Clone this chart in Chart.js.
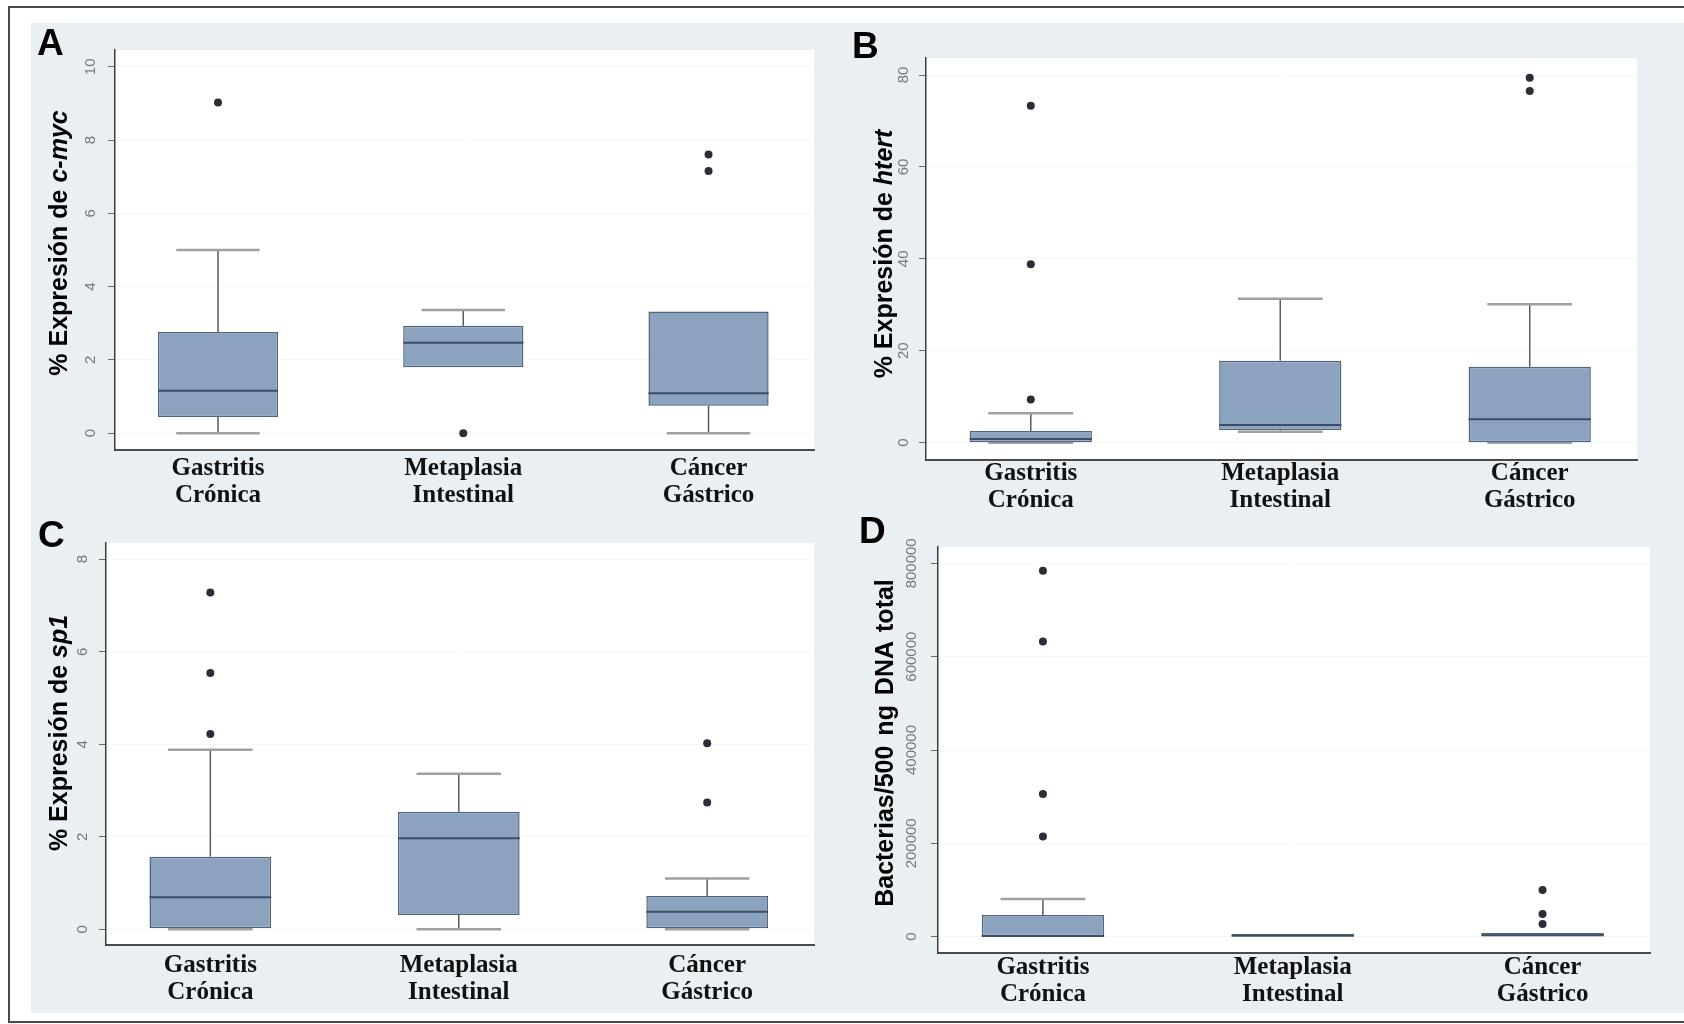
<!DOCTYPE html>
<html>
<head>
<meta charset="utf-8">
<script src="https://cdn.jsdelivr.net/npm/chart.js@4.4.1/dist/chart.umd.min.js"></script>
<style>
  html, body { margin: 0; padding: 0; background: #fff; }
  body { width: 1684px; height: 1024px; position: relative; overflow: hidden;
         font-family: "Liberation Sans", Arial, sans-serif; }
  #frame { position: absolute; left: 8px; top: 6px; width: 1700px; height: 1017px;
           border: 2px solid #4b4b4b; box-sizing: border-box; }
  #bg { position: absolute; left: 31px; top: 23px; width: 1653px; height: 990px; background: #e9eff3; }
  .panel { position: absolute; }
  .panel canvas { display: block; }
  .letter { position: absolute; font: bold 37px "Liberation Sans", Arial, sans-serif; line-height: 1; color: #000; }
  .ytitle { position: absolute; font: bold 25px "Liberation Sans", Arial, sans-serif; line-height: 1;
            white-space: nowrap; color: #000; transform: translate(-50%, -50%) rotate(-90deg); }
</style>
</head>
<body>
<div id="frame"></div>
<div id="bg"></div>

<div class="panel" style="left:31px;top:23px;"><canvas id="chartA" width="829" height="490"></canvas></div>
<div class="panel" style="left:860px;top:23px;"><canvas id="chartB" width="824" height="490"></canvas></div>
<div class="panel" style="left:31px;top:513px;"><canvas id="chartC" width="829" height="500"></canvas></div>
<div class="panel" style="left:860px;top:513px;"><canvas id="chartD" width="824" height="500"></canvas></div>

<div class="letter" style="left:37px;top:24px;">A</div>
<div class="letter" style="left:852px;top:27px;">B</div>
<div class="letter" style="left:38px;top:516px;">C</div>
<div class="letter" style="left:859px;top:512px;">D</div>

<div class="ytitle" style="left:58px;top:243px;">% Expresión de <i>c-myc</i></div>
<div class="ytitle" style="left:883px;top:254px;">% Expresión de <i>htert</i></div>
<div class="ytitle" style="left:58px;top:733px;">% Expresión de <i>sp1</i></div>
<div class="ytitle" style="left:884px;top:743px;word-spacing:3px;">Bacterias/500 ng DNA total</div>

<script>
// Groups on the horizontal axis (two-line labels)
const categories = [['Gastritis', 'Crónica'], ['Metaplasia', 'Intestinal'], ['Cáncer', 'Gástrico']];

// c-myc expression (%)
const cmycLow     = [0, 1.80, 0];
const cmycQ1      = [0.44, 1.80, 0.75];
const cmycMedian  = [1.16, 2.47, 1.09];
const cmycQ3      = [2.76, 2.93, 3.32];
const cmycHigh    = [5.00, 3.36, 3.32];
const cmycOutliers = [[9.03], [0], [7.61, 7.16]];
const cmycTicks   = [0, 2, 4, 6, 8, 10];

// hTERT expression (%)
const htertLow     = [0, 2.4, 0];
const htertQ1      = [0.1, 2.76, 0.1];
const htertMedian  = [0.8, 3.85, 5.1];
const htertQ3      = [2.55, 17.85, 16.5];
const htertHigh    = [6.4, 31.3, 30.1];
const htertOutliers = [[73.3, 38.8, 9.4], [], [79.4, 76.5]];
const htertTicks   = [0, 20, 40, 60, 80];

// sp1 expression (%)
const sp1Low     = [0, 0, 0];
const sp1Q1      = [0.02, 0.31, 0.02];
const sp1Median  = [0.69, 1.97, 0.38];
const sp1Q3      = [1.57, 2.54, 0.72];
const sp1High    = [3.88, 3.36, 1.10];
const sp1Outliers = [[7.28, 5.54, 4.22], [], [4.02, 2.74]];
const sp1Ticks   = [0, 2, 4, 6, 8];

// Bacterial load (bacteria per 500 ng total DNA)
const bactLow     = [0, 0, 0];
const bactQ1      = [0, 0, 0];
const bactMedian  = [1500, 2000, 3000];
const bactQ3      = [46500, 6000, 8000];
const bactHigh    = [80800, 6000, 8000];
const bactOutliers = [[783900, 632400, 305900, 214400], [], [100000, 48600, 27200]];
const bactTicks   = [0, 200000, 400000, 600000, 800000];

// Colours
const BOX_FILL = '#8ca3bf';
const BOX_EDGE = '#52647a';
const MEDIAN_COLOR = '#3b4e66';
const WHISKER_COLOR = '#555b61';
const CAP_COLOR = '#a0a0a0';
const OUTLIER_COLOR = '#2a2f37';

// Whiskers, caps, medians, white plot area and rotated y tick labels
const boxParts = {
  id: 'boxParts',
  beforeDraw(chart) {
    const { ctx, chartArea: a } = chart;
    ctx.save();
    ctx.fillStyle = '#ffffff';
    ctx.fillRect(a.left, a.top, a.right - a.left, a.bottom - a.top);
    ctx.restore();
  },
  beforeDatasetsDraw(chart, args, o) {
    const { ctx, scales: { x, y } } = chart;
    ctx.save();
    o.q3.forEach((_, i) => {
      const c = i + 1;
      const px = x.getPixelForValue(c);
      [[o.q3[i], o.high[i]], [o.q1[i], o.low[i]]].forEach(([from, to]) => {
        if (Math.abs(to - from) < 1e-9) return;
        ctx.strokeStyle = WHISKER_COLOR;
        ctx.lineWidth = 1.5;
        ctx.beginPath();
        ctx.moveTo(px, y.getPixelForValue(from));
        ctx.lineTo(px, y.getPixelForValue(to));
        ctx.stroke();
        const cy = y.getPixelForValue(to);
        ctx.strokeStyle = CAP_COLOR;
        ctx.lineWidth = 2.5;
        ctx.beginPath();
        ctx.moveTo(x.getPixelForValue(c - o.capHalf), cy);
        ctx.lineTo(x.getPixelForValue(c + o.capHalf), cy);
        ctx.stroke();
      });
    });
    ctx.restore();
  },
  afterDatasetsDraw(chart, args, o) {
    const { ctx, scales: { y } } = chart;
    const bars = chart.getDatasetMeta(0).data;
    ctx.save();
    ctx.strokeStyle = MEDIAN_COLOR;
    ctx.lineWidth = 2;
    bars.forEach((b, i) => {
      const py = y.getPixelForValue(o.median[i]);
      ctx.beginPath();
      ctx.moveTo(b.x - b.width / 2, py);
      ctx.lineTo(b.x + b.width / 2, py);
      ctx.stroke();
    });
    ctx.restore();
  },
  afterDraw(chart, args, o) {
    const { ctx, chartArea, scales: { y } } = chart;
    ctx.save();
    ctx.font = '15px "Liberation Sans Narrow", "Liberation Sans", Arial, sans-serif';
    ctx.fillStyle = '#787878';
    ctx.textAlign = 'center';
    ctx.textBaseline = 'middle';
    o.ticks.forEach(v => {
      ctx.save();
      ctx.translate(chartArea.left - o.tickGap, y.getPixelForValue(v));
      ctx.rotate(-Math.PI / 2);
      ctx.fillText(String(v), 0, 0);
      ctx.restore();
    });
    ctx.restore();
  }
};

function boxChart(id, s, layout) {
  const points = [];
  s.outliers.forEach((list, i) => list.forEach(v => points.push({ x: i + 1, y: v })));
  return new Chart(document.getElementById(id), {
    type: 'bar',
    data: {
      datasets: [
        {
          type: 'bar',
          data: s.q1.map((q, i) => ({ x: i + 1, y: [q, s.q3[i]] })),
          backgroundColor: BOX_FILL,
          borderColor: BOX_EDGE,
          borderWidth: 1.5,
          borderSkipped: false,
          barPercentage: 0.49,
          categoryPercentage: 1
        },
        {
          type: 'scatter',
          data: points,
          pointRadius: 4,
          pointBackgroundColor: OUTLIER_COLOR,
          pointBorderWidth: 0
        }
      ]
    },
    options: {
      responsive: false,
      animation: false,
      events: [],
      layout: { padding: { left: 0, top: layout.top, right: layout.right, bottom: 0 } },
      plugins: {
        legend: { display: false },
        tooltip: { enabled: false },
        boxParts: {
          low: s.low, q1: s.q1, median: s.median, q3: s.q3, high: s.high,
          ticks: s.ticks, capHalf: 0.17, tickGap: layout.tickGap
        }
      },
      scales: {
        x: {
          type: 'linear',
          min: 0.58,
          max: 3.43,
          offset: false,
          grid: { display: false, drawTicks: false },
          border: { display: true, color: '#4a4a4a', width: 2 },
          afterBuildTicks: sc => { sc.ticks = categories.map((_, i) => ({ value: i + 1 })); },
          afterFit: sc => { sc.height = layout.xHeight; },
          ticks: {
            autoSkip: false,
            maxRotation: 0,
            minRotation: 0,
            padding: layout.labelPad,
            color: '#111',
            font: { family: '"Liberation Serif", "Times New Roman", serif', size: 25, weight: 'bold', lineHeight: 1.08 },
            callback: v => categories[Math.round(v) - 1]
          }
        },
        y: {
          type: 'linear',
          min: s.min,
          max: s.max,
          grid: { color: '#f6f7f8', tickColor: '#6b6b6b', tickLength: 7, drawTicks: true, lineWidth: 1 },
          border: { display: true, color: '#3d3d3d', width: 1.5 },
          afterBuildTicks: sc => { sc.ticks = s.ticks.map(v => ({ value: v })); },
          afterFit: sc => { sc.width = layout.yWidth; },
          ticks: { display: false }
        }
      }
    },
    plugins: [boxParts]
  });
}

boxChart('chartA',
  { low: cmycLow, q1: cmycQ1, median: cmycMedian, q3: cmycQ3, high: cmycHigh,
    outliers: cmycOutliers, ticks: cmycTicks, min: -0.46, max: 10.46 },
  { yWidth: 84, top: 27, right: 46, xHeight: 63, labelPad: 5, tickGap: 24 });

boxChart('chartB',
  { low: htertLow, q1: htertQ1, median: htertMedian, q3: htertQ3, high: htertHigh,
    outliers: htertOutliers, ticks: htertTicks, min: -3.77, max: 83.7 },
  { yWidth: 66, top: 35, right: 47, xHeight: 53, labelPad: 0, tickGap: 22 });

boxChart('chartC',
  { low: sp1Low, q1: sp1Q1, median: sp1Median, q3: sp1Q3, high: sp1High,
    outliers: sp1Outliers, ticks: sp1Ticks, min: -0.34, max: 8.35 },
  { yWidth: 75, top: 30, right: 46, xHeight: 68, labelPad: 7, tickGap: 23 });

boxChart('chartD',
  { low: bactLow, q1: bactQ1, median: bactMedian, q3: bactQ3, high: bactHigh,
    outliers: bactOutliers, ticks: bactTicks, min: -35000, max: 835000 },
  { yWidth: 78, top: 34, right: 34, xHeight: 60, labelPad: 1, tickGap: 26 });
</script>
</body>
</html>
